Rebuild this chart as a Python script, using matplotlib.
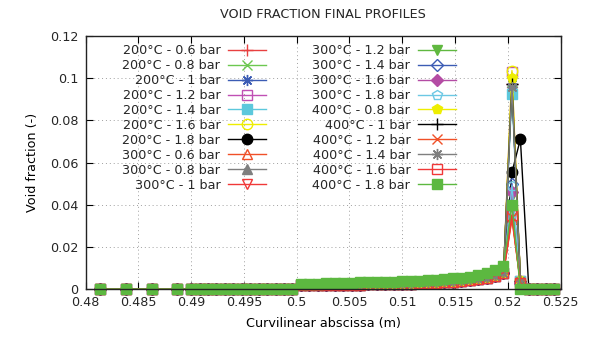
import matplotlib
matplotlib.use("Agg")
import matplotlib.pyplot as plt
from matplotlib.ticker import MultipleLocator, FuncFormatter

plt.rcParams['font.family'] = ['DejaVu Sans']
plt.rcParams['font.size'] = 9.2
plt.rcParams['text.color'] = '#262626'

# mesh (curvilinear abscissa, m)
x_upstream = [0.4814, 0.4838, 0.4863, 0.4887,
              0.4900, 0.4908, 0.4916, 0.4924, 0.4932, 0.4940, 0.4948,
              0.4956, 0.4964, 0.4972, 0.4980, 0.4988, 0.4996]
x_ramp = [0.5004, 0.5012, 0.5020, 0.5028, 0.5036, 0.5044, 0.5052, 0.5060,
          0.5068, 0.5076, 0.5084, 0.5092, 0.5100, 0.5108, 0.5116, 0.5124,
          0.5132, 0.5140, 0.5148, 0.5156, 0.5164, 0.5172, 0.5180, 0.5188,
          0.5196]
x_peak = [0.5204, 0.5212]
x_tail = [0.5220, 0.5228, 0.5236, 0.5244]

# void fraction on each part of the mesh
vf_upstream = [0.0] * 17
vf_ramp_low = [0.0018, 0.0018, 0.0019, 0.0019, 0.0020, 0.0020, 0.0021, 0.0021,
               0.0022, 0.0023, 0.0023, 0.0024, 0.0025, 0.0026, 0.0027, 0.0029,
               0.0030, 0.0032, 0.0034, 0.0037, 0.0041, 0.0046, 0.0053, 0.0063,
               0.0077]
vf_ramp_high = [0.0024, 0.0025, 0.0026, 0.0027, 0.0028, 0.0029, 0.0030, 0.0031,
                0.0032, 0.0033, 0.0034, 0.0035, 0.0036, 0.0038, 0.0040, 0.0042,
                0.0044, 0.0047, 0.0050, 0.0054, 0.0059, 0.0066, 0.0076, 0.0089,
                0.0109]
vf_tail = [0.0] * 4

labels = ['200°C - 0.6 bar', '200°C - 0.8 bar', '200°C - 1 bar', '200°C - 1.2 bar',
          '200°C - 1.4 bar', '200°C - 1.6 bar', '200°C - 1.8 bar', '300°C - 0.6 bar',
          '300°C - 0.8 bar', '300°C - 1 bar', '300°C - 1.2 bar', '300°C - 1.4 bar',
          '300°C - 1.6 bar', '300°C - 1.8 bar', '400°C - 0.8 bar', '400°C - 1 bar',
          '400°C - 1.2 bar', '400°C - 1.4 bar', '400°C - 1.6 bar', '400°C - 1.8 bar']
vf_peak = [0.097, 0.098, 0.097, 0.1028, 0.0926, 0.1036, 0.0553, 0.033, 0.040, 0.035,
           0.044, 0.050, 0.046, 0.049, 0.100, 0.097, 0.034, 0.096, 0.035, 0.040]
vf_after_peak = [0.004, 0.004, 0.004, 0.004, 0.004, 0.004, 0.0711, 0.003, 0.003, 0.003,
                 0.003, 0.003, 0.003, 0.003, 0.004, 0.004, 0.003, 0.004, 0.003, 0.0]

colors = ['#e84040', '#6cc850', '#3c5cb4', '#c050b4', '#5cc8dc', '#eeee00', '#000000',
          '#f05028', '#7f7f7f', '#f03838', '#60b840', '#3c5cb4', '#b44ca4', '#6cc8e4',
          '#eeee00', '#000000', '#f05028', '#7f7f7f', '#f03838', '#5cb840']
markers = ['+', 'x', (8, 2, 0), 's', 's', 'o', 'o', '^', '^', 'v',
           'v', 'D', 'D', 'p', 'p', '+', 'x', (8, 2, 0), 's', 's']
filled = [True, True, True, False, True, False, True, False, True, False,
          True, False, True, False, True, True, True, True, False, True]
sizes = [8, 7, 8, 7, 7, 7.5, 7.5, 7, 7, 7, 7, 6, 6, 7.5, 7.5, 8, 7, 8, 7, 7]

x_mesh = x_upstream + x_ramp + x_peak + x_tail

fig = plt.figure(figsize=(5.89, 3.38), dpi=100)
ax = fig.add_axes([85.5 / 589, 1 - 289 / 338, 475 / 589, 253 / 338])

for i, lab in enumerate(labels):
    ramp = vf_ramp_high if i == len(labels) - 1 else vf_ramp_low
    y = vf_upstream + ramp + [vf_peak[i], vf_after_peak[i]] + vf_tail
    face = colors[i] if filled[i] else 'none'
    ax.plot(x_mesh, y, color=colors[i], lw=1.0, marker=markers[i], ms=sizes[i],
            mfc=face, mec=colors[i], mew=1.0, label=lab, zorder=3 + i * 0.01,
            clip_on=False)

ax.set_xlim(0.48, 0.525)
ax.set_ylim(0, 0.12)
ax.xaxis.set_major_locator(MultipleLocator(0.005))
ax.yaxis.set_major_locator(MultipleLocator(0.02))
ax.xaxis.set_major_formatter(FuncFormatter(lambda v, p: f'{v:g}'))
ax.yaxis.set_major_formatter(FuncFormatter(lambda v, p: f'{v:g}'))
ax.tick_params(direction='in', length=5, width=0.8, top=True, right=True,
               labelsize=9.2, labelcolor='#262626', pad=5)
ax.grid(True, color='#a0a0a0', linestyle=(0, (1, 3)), linewidth=0.7)
for sp in ax.spines.values():
    sp.set_linewidth(1.0)
    sp.set_color('#222222')
    sp.set_zorder(5)

ax.set_title('VOID FRACTION FINAL PROFILES', fontsize=9.2, pad=13)
ax.set_xlabel('Curvilinear abscissa (m)', fontsize=9.2, labelpad=6)
ax.set_ylabel('Void fraction (-)', fontsize=9.2, labelpad=8)

leg = ax.legend(ncol=2, markerfirst=False, frameon=False, loc='upper left',
                bbox_to_anchor=(0.06, 1.0), handlelength=3.0, handletextpad=0.6,
                columnspacing=3.6, labelspacing=0.15, fontsize=9.2,
                borderaxespad=0.25)
for col in leg._legend_handle_box.get_children():
    col.align = 'right'

fig.savefig('out.png', dpi=100)
